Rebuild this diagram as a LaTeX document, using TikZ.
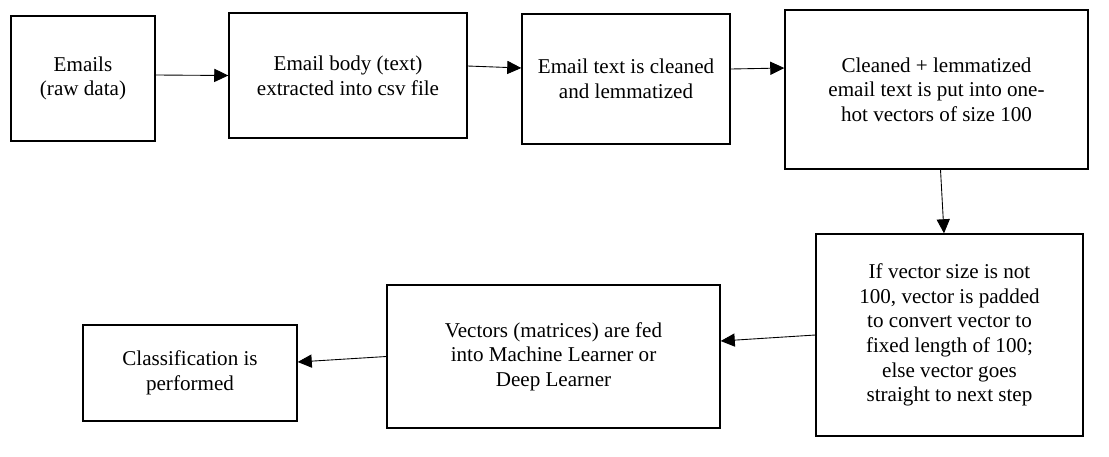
\documentclass[tikz,border=0pt]{standalone}
\usepackage{fontspec}
\setmainfont{Liberation Serif}
\usetikzlibrary{arrows.meta}

\begin{document}
\begin{tikzpicture}[
    stepbox/.style={draw, line width=0.8pt, align=center, inner sep=2pt},
    flow/.style={line width=0.5pt, -{Triangle[length=8pt,width=7.5pt]}}]
      \fontsize{12}{14}\selectfont
      \useasboundingbox (0,0) rectangle (22.18,-9.12);
      \node[stepbox, minimum width=2.88cm, minimum height=2.5cm] at (1.66,-1.57) (emails) {Emails\\(raw data)};
      \node[stepbox, right of=emails, node distance=5.3cm, yshift=0.06cm, minimum width=4.76cm, minimum height=2.5cm] (body) {Email body (text)\\extracted into csv file};
      \node[stepbox, right of=body, node distance=5.56cm, yshift=-0.07cm, minimum width=4.16cm, minimum height=2.6cm] (clean) {Email text is cleaned\\and lemmatized};
      \node[stepbox, right of=clean, node distance=6.21cm, yshift=-0.21cm, minimum width=6.06cm, minimum height=3.18cm] (onehot) {Cleaned + lemmatized\\email text is put into one-\\hot vectors of size 100};
      \node[stepbox, below of=onehot, node distance=4.91cm, xshift=0.26cm, minimum width=5.34cm, minimum height=4.04cm] (pad) {If vector size is not\\100, vector is padded\\to convert vector to\\fixed length of 100;\\else vector goes\\straight to next step};
      \node[stepbox, left of=pad, node distance=7.92cm, yshift=-0.43cm, minimum width=6.66cm, minimum height=2.86cm] (learner) {Vectors (matrices) are fed\\into Machine Learner or\\Deep Learner};
      \node[stepbox, left of=learner, node distance=7.27cm, yshift=-0.33cm, minimum width=4.28cm, minimum height=1.92cm] (classify) {Classification is\\performed};
      \draw[flow] ([yshift=0.07cm]emails.east) -- (body.west);
      \draw[flow] ([yshift=0.19cm]body.east) -- ([yshift=0.22cm]clean.west);
      \draw[flow] ([yshift=0.2cm]clean.east) -- ([yshift=0.43cm]onehot.west);
      \draw[flow] ([xshift=0.08cm]onehot.south) -- ([xshift=-0.11cm]pad.north);
      \draw[flow] (pad.west) -- ([yshift=0.31cm]learner.east);
      \draw[flow] (learner.west) -- ([yshift=0.22cm]classify.east);
    \end{tikzpicture}
\end{document}
